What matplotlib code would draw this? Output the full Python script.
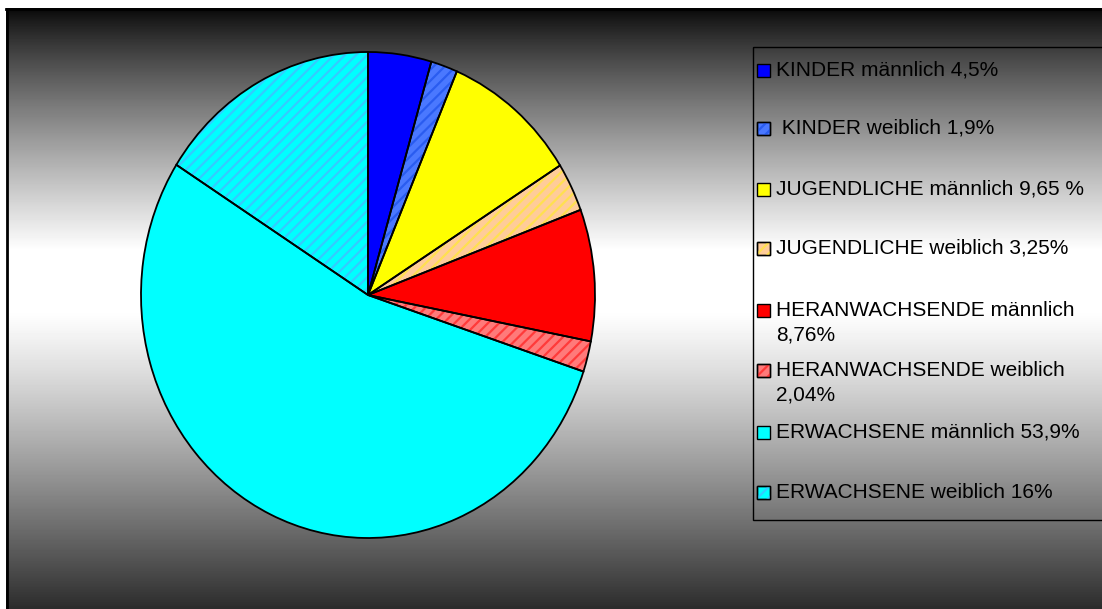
import numpy as np
import matplotlib.pyplot as plt
from matplotlib.patches import Rectangle

plt.rcParams['font.family'] = ['Liberation Sans', 'DejaVu Sans']
plt.rcParams['hatch.linewidth'] = 1.6

labels = ['KINDER männlich 4,5%', ' KINDER weiblich 1,9%', 'JUGENDLICHE männlich 9,65 %',
          'JUGENDLICHE weiblich 3,25%', 'HERANWACHSENDE männlich\n8,76%',
          'HERANWACHSENDE weiblich\n2,04%', 'ERWACHSENE männlich 53,9%',
          'ERWACHSENE weiblich 16%']
shares = [4.5, 1.9, 9.65, 3.25, 8.76, 2.04, 53.9, 16]
colors = ['#0000ff', '#4a78ff', '#ffff00', '#ffcc99', '#ff0000', '#ff7a7a', '#00ffff', '#00ffff']
hatch_colors = [None, '#2a5cf0', None, '#ffe050', None, '#ff3a3a', None, '#33ccff']

W, H = 1102, 609
fig = plt.figure(figsize=(W / 100, H / 100), dpi=100)

# background: grey gradient, dark top/bottom, white middle
bg = fig.add_axes([0, 0, 1, 1])
bg.set_xlim(0, W)
bg.set_ylim(H, 0)
bg.axis('off')
y = np.arange(H)
t_top = np.clip((y - 10) / 240, 0, 1)
t_bot = np.clip((y - 310) / 299, 0, 1)
g = np.where(y < 250, 0.04 + 0.96 * t_top ** 0.85,
             np.where(y < 310, 1.0, 1.0 - 0.83 * t_bot ** 1.15))
img = np.repeat(g[:, None], 2, axis=1)
bg.imshow(img, cmap='gray', vmin=0, vmax=1, extent=(0, W, H, 0), aspect='auto')
bg.add_patch(Rectangle((0, 0), W, 8, color='white', lw=0))
bg.add_patch(Rectangle((0, 0), 6, H, color='white', lw=0))
bg.plot([6, W], [9, 9], color='black', lw=2)
bg.plot([6.5, 6.5], [9, H], color='black', lw=2)

# legend (drawn by hand to keep Excel's spacing)
bg.add_patch(Rectangle((753, 47), 400, 473, fill=False, edgecolor='black', lw=1))
leg_y = [70, 128, 189, 248, 310, 370, 432, 492]
for lab, c, hc, yy in zip(labels, colors, hatch_colors, leg_y):
    sq = Rectangle((757, yy - 6.5), 13, 13, facecolor=c, edgecolor='black', lw=1)
    bg.add_patch(sq)
    if hc:
        bg.add_patch(Rectangle((757, yy - 6.5), 13, 13, facecolor='none',
                               edgecolor=hc, hatch='///', lw=0))
        bg.add_patch(Rectangle((757, yy - 6.5), 13, 13, fill=False, edgecolor='black', lw=1))
    for i, line in enumerate(lab.split('\n')):
        bg.text(776, yy + i * 25, line, fontsize=15, va='center', ha='left', color='black')

# pie as an ellipse like in the original
cx, cy, rx, ry, pad = 368, 295, 227, 243, 6
ax = fig.add_axes([(cx - rx - pad) / W, (H - cy - ry - pad) / H,
                   2 * (rx + pad) / W, 2 * (ry + pad) / H])
w1, _ = ax.pie(shares, colors=colors, startangle=90, counterclock=False,
               wedgeprops=dict(linewidth=0))
w2, _ = ax.pie(shares, colors=['none'] * len(shares), startangle=90, counterclock=False,
               wedgeprops=dict(linewidth=0))
for w, hc in zip(w2, hatch_colors):
    if hc:
        w.set_hatch('///')
        w.set_edgecolor(hc)
    else:
        w.set_visible(False)
ax.pie(shares, colors=['none'] * len(shares), startangle=90, counterclock=False,
       wedgeprops=dict(edgecolor='black', linewidth=1.3))
ax.set_aspect('auto')
ax.set_xlim(-(rx + pad) / rx, (rx + pad) / rx)
ax.set_ylim(-(ry + pad) / ry, (ry + pad) / ry)
ax.axis('off')

fig.savefig('out.png', dpi=100)
